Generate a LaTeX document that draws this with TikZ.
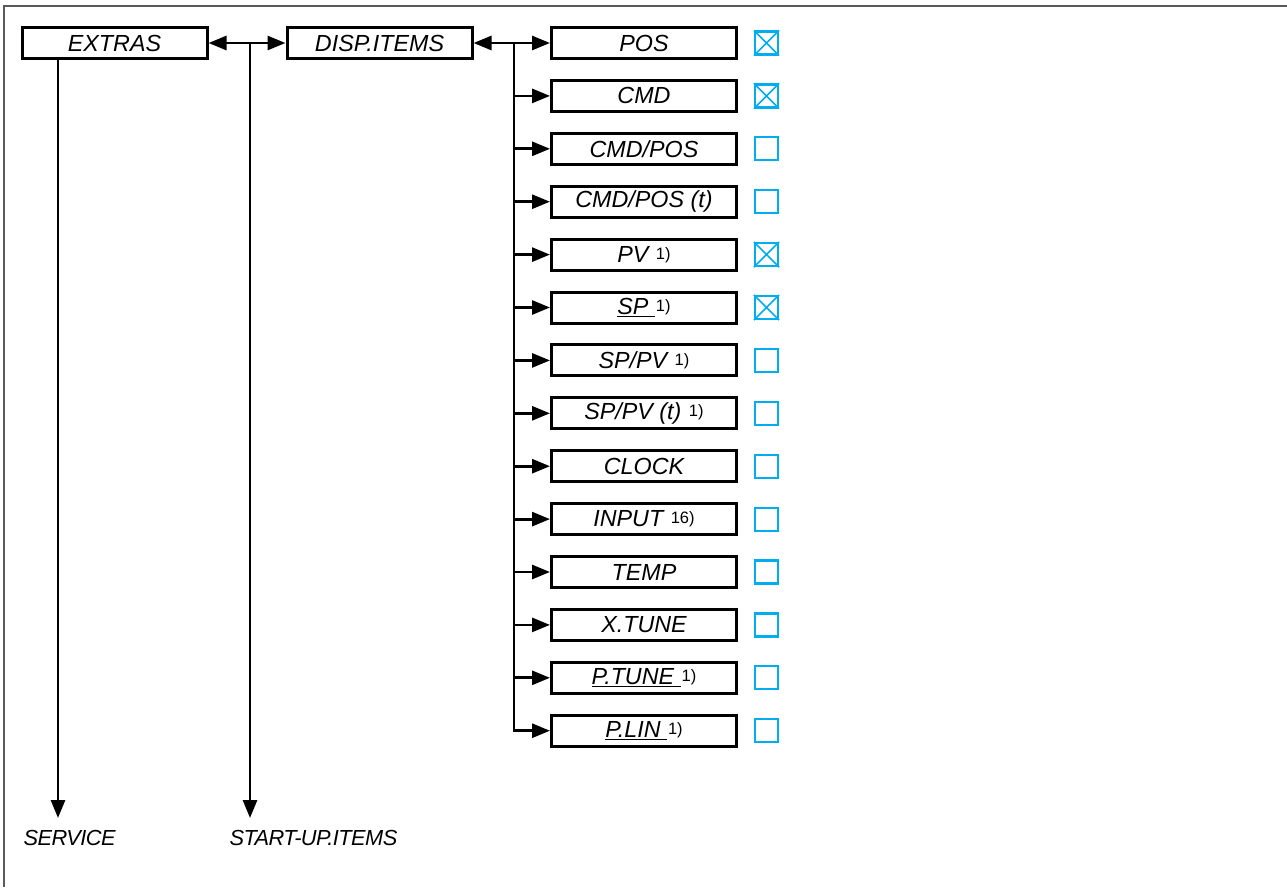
\documentclass[tikz,border=0pt]{standalone}
\usepackage{fontspec}
\setmainfont{Liberation Sans}
\usetikzlibrary{arrows.meta}

\definecolor{boxcyan}{RGB}{0,174,239}
\definecolor{framegray}{RGB}{90,90,90}
\newcommand\fn[1]{\kern1pt\raisebox{3pt}{\upshape\fontsize{16.5}{16.5}\selectfont #1}}

\tikzset{
    menubox/.style={draw, line width=3pt, minimum width=185pt, minimum height=31pt, inner sep=0pt},
    checkbox/.style={draw=boxcyan, line width=2.2pt, minimum size=23pt, inner sep=0pt},
    link/.style={line width=2.8pt, -{Triangle[length=18pt,width=14pt]}},
    dlink/.style={line width=2.8pt, {Triangle[length=18pt,width=14pt]}-{Triangle[length=18pt,width=14pt]}},
    target/.style={anchor=base west, font=\itshape\fontsize{21.8}{26}\selectfont\addfontfeature{LetterSpace=-2.5}}
}

\begin{document}
\begin{tikzpicture}[x=1pt, y=-1pt, font=\itshape\fontsize{23.3}{27}\selectfont]

% Frame
\useasboundingbox (0,0) rectangle (1287,887);
\draw[framegray, line width=2pt] (4,887) -- (4,6) -- (1287,6);

% Top row
\node[menubox] (extras) at (114.5,43) {EXTRAS};
\node[menubox] (disp) at (379.5,43) {DISP.ITEMS};

% Display items with check boxes
\foreach \txt/\chk [count=\i from 0] in {
    {POS}/1, {CMD}/1, {CMD/POS}/0, {CMD/POS (t)}/0,
    {PV\ \fn{1)}}/1, {\underline{SP\ }\fn{1)}}/1, {SP/PV\ \fn{1)}}/0,
    {SP/PV (t)\ \fn{1)}}/0, {CLOCK}/0, {INPUT\ \fn{16)}}/0, {TEMP}/0,
    {X.TUNE}/0, {\underline{P.TUNE\ }\fn{1)}}/0, {\underline{P.LIN\ }\fn{1)}}/0}
{
    \node[menubox] (item\i) at (644,43+52.9*\i) {\txt};
    \node[checkbox] (cb\i) at (766.5,43+52.9*\i) {};
    \ifnum\chk=1
        \draw[boxcyan, line width=1.6pt] (cb\i.north west) -- (cb\i.south east)
            (cb\i.north east) -- (cb\i.south west);
    \fi
}

% Branch to the items
\coordinate (br) at (514,43);
\draw[dlink] (disp) -- (item0);
\foreach \i in {1,...,12}
    \draw[link] (br |- item\i) -- (item\i);
\draw[link] (br) |- (item13);

% Left branches
\coordinate (su) at (250,43);
\coordinate (svcend) at (58,818);
\coordinate (suend) at (250,818);
\draw[dlink] (extras) -- (disp);
\draw[link] (extras.south -| svcend) -- (svcend);
\draw[link] (su) -- (suend);

% Targets
\node[target] (service) at (20,845) {SERVICE};
\node[target] (startup) at (226,845) {START-UP.ITEMS};

\end{tikzpicture}
\end{document}
